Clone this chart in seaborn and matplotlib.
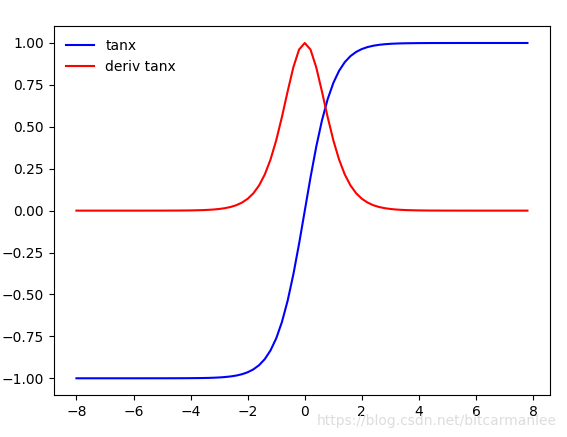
import matplotlib
matplotlib.use("Agg")
import matplotlib.pyplot as plt
import seaborn as sns
import pandas as pd

# x samples (flat tails need only a few points, centre sampled every 0.2)
x_vals = [-8.0, -6.0, -5.0, -4.4, -4.0, -3.6, -3.4, -3.2, -3.0, -2.8, -2.6, -2.4,
          -2.2, -2.0, -1.8, -1.6, -1.4, -1.2, -1.0, -0.8, -0.6, -0.4, -0.2, 0.0,
          0.2, 0.4, 0.6, 0.8, 1.0, 1.2, 1.4, 1.6, 1.8, 2.0, 2.2, 2.4, 2.6, 2.8,
          3.0, 3.2, 3.4, 3.6, 4.0, 4.4, 5.0, 6.0, 7.8]

tanx = [-1.0, -1.0, -0.9999, -0.9997, -0.9993, -0.9985, -0.9978, -0.9967, -0.9951,
        -0.9926, -0.9890, -0.9837, -0.9757, -0.9640, -0.9468, -0.9217, -0.8854,
        -0.8337, -0.7616, -0.6640, -0.5370, -0.3799, -0.1974, 0.0,
        0.1974, 0.3799, 0.5370, 0.6640, 0.7616, 0.8337, 0.8854, 0.9217, 0.9468,
        0.9640, 0.9757, 0.9837, 0.9890, 0.9926, 0.9951, 0.9967, 0.9978, 0.9985,
        0.9993, 0.9997, 0.9999, 1.0, 1.0]

deriv_tanx = [0.0, 0.0, 0.0002, 0.0006, 0.0013, 0.0030, 0.0045, 0.0066, 0.0099,
              0.0147, 0.0218, 0.0323, 0.0480, 0.0707, 0.1036, 0.1505, 0.2161,
              0.3050, 0.4200, 0.5591, 0.7116, 0.8556, 0.9610, 1.0,
              0.9610, 0.8556, 0.7116, 0.5591, 0.4200, 0.3050, 0.2161, 0.1505,
              0.1036, 0.0707, 0.0480, 0.0323, 0.0218, 0.0147, 0.0099, 0.0066,
              0.0045, 0.0030, 0.0013, 0.0006, 0.0002, 0.0, 0.0]

df = pd.DataFrame({"x": x_vals, "tanx": tanx, "deriv tanx": deriv_tanx})

fig, ax = plt.subplots(figsize=(5.67, 4.37), dpi=100)
fig.subplots_adjust(left=0.095, right=0.970, top=0.940, bottom=0.096)

sns.lineplot(data=df, x="x", y="tanx", color="blue", label="tanx", ax=ax)
sns.lineplot(data=df, x="x", y="deriv tanx", color="red", label="deriv tanx", ax=ax)

ax.set_xlabel("")
ax.set_ylabel("")
ax.set_xticks([-8, -6, -4, -2, 0, 2, 4, 6, 8])
ax.set_yticks([-1.0, -0.75, -0.5, -0.25, 0.0, 0.25, 0.5, 0.75, 1.0])
ax.set_yticklabels(["\u22121.00", "\u22120.75", "\u22120.50", "\u22120.25",
                    "0.00", "0.25", "0.50", "0.75", "1.00"])
ax.legend(loc="upper left", frameon=False)

# faint watermark seen in the source image
fig.text(0.982, 0.028, "https://blog.csdn.net/bitcarmanlee", ha="right",
         fontsize=10, color="#dddddd")

fig.savefig("out.png", dpi=100)
